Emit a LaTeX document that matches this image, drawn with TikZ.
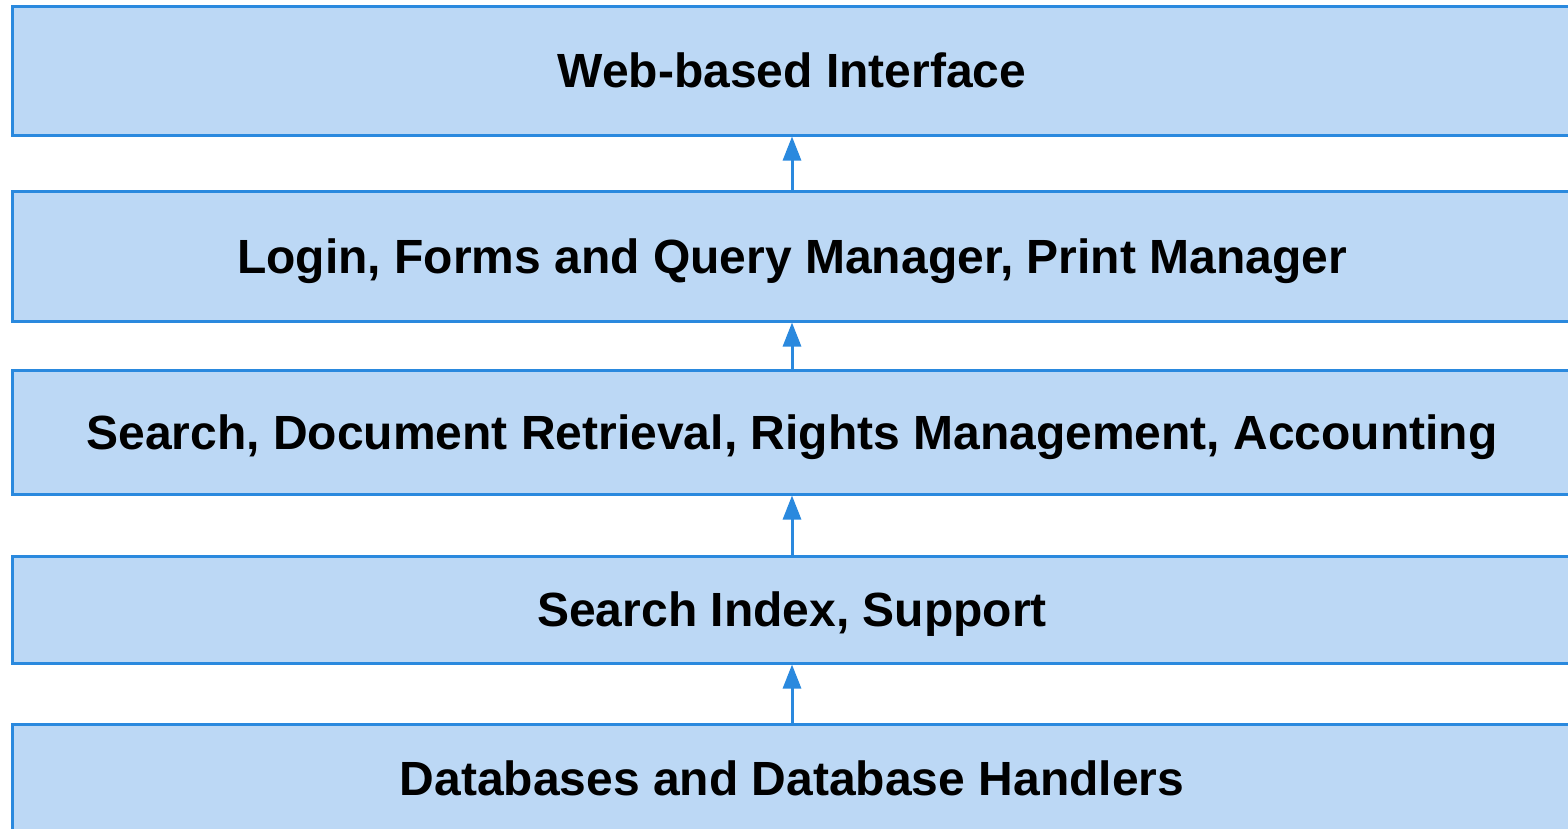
\documentclass[tikz,border=0pt]{standalone}
\usepackage{fontspec}
\setmainfont{Liberation Sans}
\usetikzlibrary{arrows.meta}
\definecolor{boxfill}{RGB}{188,216,245}
\definecolor{boxline}{RGB}{42,137,222}
\tikzset{
  layer/.style={rectangle, draw=boxline, fill=boxfill, line width=3pt,
    minimum width=1560pt, inner sep=0pt, text height=34.4pt, text depth=0pt,
    font=\fontsize{48}{56}\selectfont\bfseries, text=black},
  uparrow/.style={draw=boxline, line width=3pt, -{Triangle[length=24pt,width=18pt]}}
}
\begin{document}
\begin{tikzpicture}[x=1pt,y=1pt]
\useasboundingbox (0,0) rectangle (1568,-828);
\begin{scope}
\clip (0,0) rectangle (1568,-828);
\node[layer, minimum height=129pt] (web) at (792,-70.5) {Web-based Interface};
\node[layer, minimum height=130pt] (login) at (792,-256) {Login, Forms and Query Manager, Print Manager};
\node[layer, minimum height=124pt] (search) at (792,-432) {Search, Document Retrieval, Rights Management, Accounting};
\node[layer, minimum height=107pt] (index) at (792,-609.5) {Search Index, Support};
\node[layer, minimum height=108pt] (db) at (792,-778) {Databases and Database Handlers};
\draw[uparrow] (login.north) -- (web.south);
\draw[uparrow] (search.north) -- (login.south);
\draw[uparrow] (index.north) -- (search.south);
\draw[uparrow] (db.north) -- (index.south);
\end{scope}
\end{tikzpicture}
\end{document}
